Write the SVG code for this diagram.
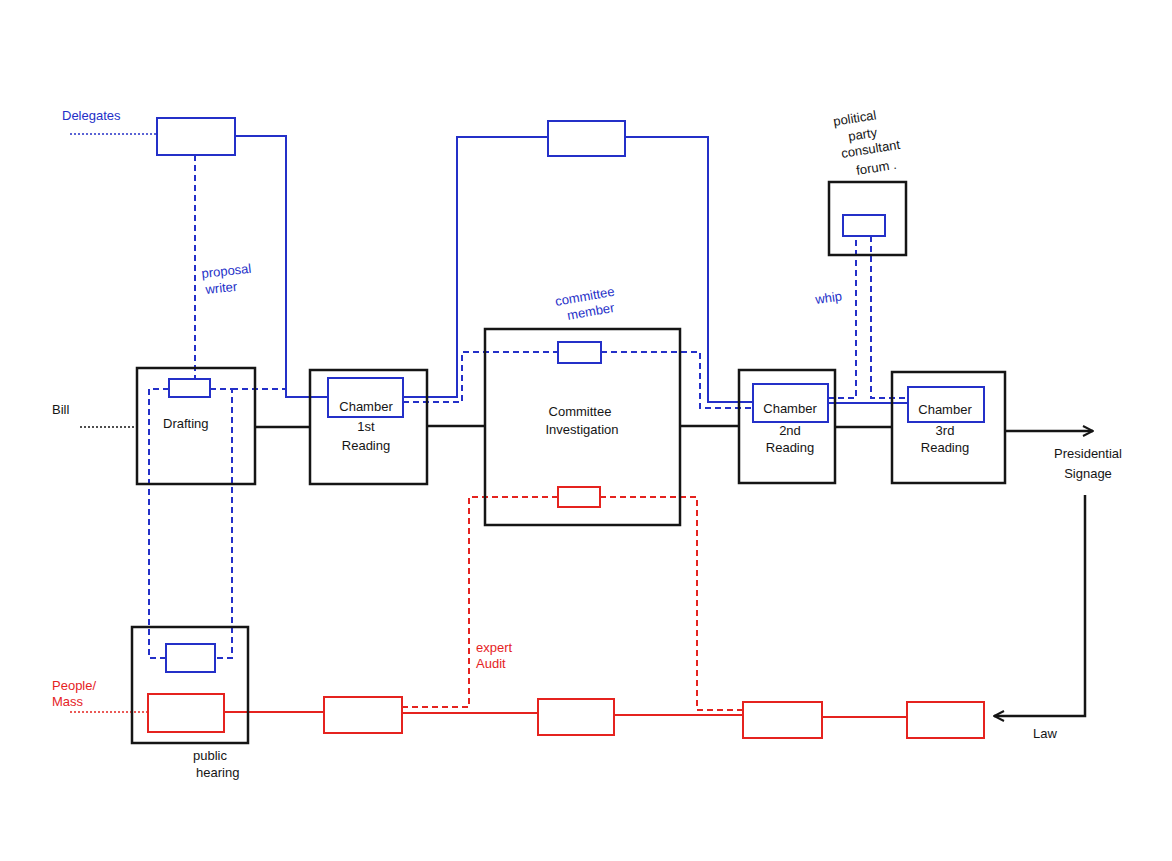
<svg xmlns="http://www.w3.org/2000/svg" width="1172" height="861" viewBox="0 0 1172 861">
<defs>
<style>
.k{stroke:#151515;stroke-width:2.5;fill:none}
.kd{stroke:#151515;stroke-width:1.6;fill:none;stroke-dasharray:2 2}
.b{stroke:#2430c8;stroke-width:2;fill:none}
.bd{stroke:#2430c8;stroke-width:2;fill:none;stroke-dasharray:6 4}
.bdot{stroke:#2430c8;stroke-width:1.6;fill:none;stroke-dasharray:2 2}
.r{stroke:#e5231f;stroke-width:2;fill:none}
.rd{stroke:#e5231f;stroke-width:2;fill:none;stroke-dasharray:6 4}
.rdot{stroke:#e5231f;stroke-width:1.6;fill:none;stroke-dasharray:2 2}
text{font-family:"Liberation Sans",Arial,sans-serif;font-size:13px}
.tk{fill:#151515}
.tb{fill:#2430c8}
.tr{fill:#e5231f}
.c{text-anchor:middle}
</style>
<marker id="arr" viewBox="0 0 12 12" refX="11" refY="6" markerWidth="12" markerHeight="12" markerUnits="userSpaceOnUse" orient="auto">
<path d="M1,1 L11,6 L1,11" fill="none" stroke="#151515" stroke-width="2"/>
</marker>
</defs>
<rect width="1172" height="861" fill="#ffffff"/>

<g id="connectors">
<path class="kd" d="M80 427 H137"/>
<path class="k" d="M255 427 H310"/>
<path class="k" d="M427 426 H485"/>
<path class="k" d="M680 426 H739"/>
<path class="k" d="M835 427 H892"/>
<path class="k" d="M1005 431 H1093" marker-end="url(#arr)"/>
<path class="k" d="M1085 495 V716 H994" marker-end="url(#arr)"/>

<path class="bdot" d="M70 134 H157"/>
<path class="b" d="M235 136 H286 V397 H328"/>
<path class="b" d="M403 397 H457 V137 H548"/>
<path class="b" d="M625 137 H708 V402 H753"/>
<path class="b" d="M828 403 H908"/>
<path class="bd" d="M195 155 V379"/>
<path class="bd" d="M169 389 H149 V658 H166"/>
<path class="bd" d="M210 389 H232 V658 H215"/>
<path class="bd" d="M232 389 H286"/>
<path class="bd" d="M403 402 H462 V352 H558"/>
<path class="bd" d="M601 352 H700 V408 H753"/>
<path class="bd" d="M828 398 H856 V236"/>
<path class="bd" d="M871 236 V398 H908"/>

<path class="rdot" d="M70 712 H148"/>
<path class="r" d="M224 712 H324"/>
<path class="r" d="M402 713 H538"/>
<path class="r" d="M614 715 H743"/>
<path class="r" d="M822 717 H907"/>
<path class="rd" d="M402 707 H469 V497 H558"/>
<path class="rd" d="M600 497 H697 V710 H743"/>
</g>

<g id="delegates">
<text class="tb" x="62" y="120">Delegates</text>
<rect class="b" x="157" y="118" width="78" height="37"/>
</g>
<g id="top-middle-box">
<rect class="b" x="548" y="121" width="77" height="35"/>
</g>
<g id="forum">
<text class="tk" transform="translate(834,126) rotate(-9)">political</text>
<text class="tk" transform="translate(849,141) rotate(-9)">party</text>
<text class="tk" transform="translate(842,158) rotate(-9)">consultant</text>
<text class="tk" transform="translate(857,175) rotate(-9)">forum .</text>
<rect class="k" x="829" y="182" width="77" height="73"/>
<rect class="b" x="843" y="215" width="42" height="21"/>
</g>
<g id="labels-blue">
<text class="tb" x="202" y="278" transform="rotate(-6 202 278)">proposal</text>
<text class="tb" x="206" y="294" transform="rotate(-6 206 294)">writer</text>
<text class="tb" x="556" y="306" transform="rotate(-10 556 306)">committee</text>
<text class="tb" x="568" y="320" transform="rotate(-10 568 320)">member</text>
<text class="tb" x="816" y="304" transform="rotate(-8 816 304)">whip</text>
</g>
<g id="drafting">
<text class="tk" x="52" y="414">Bill</text>
<rect class="k" x="137" y="368" width="118" height="116"/>
<rect class="b" x="169" y="379" width="41" height="18"/>
<text class="tk" x="163" y="428">Drafting</text>
</g>
<g id="reading1">
<rect class="k" x="310" y="370" width="117" height="114"/>
<rect class="b" x="328" y="378" width="75" height="39"/>
<text class="tk c" x="366" y="411">Chamber</text>
<text class="tk c" x="366" y="431">1st</text>
<text class="tk c" x="366" y="450">Reading</text>
</g>
<g id="committee">
<rect class="k" x="485" y="329" width="195" height="196"/>
<rect class="b" x="558" y="342" width="43" height="21"/>
<text class="tk c" x="580" y="416">Committee</text>
<text class="tk c" x="582" y="434">Investigation</text>
<rect class="r" x="558" y="487" width="42" height="20"/>
</g>
<g id="reading2">
<rect class="k" x="739" y="370" width="96" height="113"/>
<rect class="b" x="753" y="384" width="75" height="38"/>
<text class="tk c" x="790" y="413">Chamber</text>
<text class="tk c" x="790" y="435">2nd</text>
<text class="tk c" x="790" y="452">Reading</text>
</g>
<g id="reading3">
<rect class="k" x="892" y="372" width="113" height="111"/>
<rect class="b" x="908" y="387" width="76" height="35"/>
<text class="tk c" x="945" y="414">Chamber</text>
<text class="tk c" x="945" y="435">3rd</text>
<text class="tk c" x="945" y="452">Reading</text>
</g>
<g id="presidential">
<text class="tk c" x="1088" y="458">Presidential</text>
<text class="tk c" x="1088" y="478">Signage</text>
<text class="tk c" x="1045" y="738">Law</text>
</g>
<g id="expert">
<text class="tr" x="476" y="652">expert</text>
<text class="tr" x="476" y="668">Audit</text>
</g>
<g id="public-hearing">
<text class="tr" x="52" y="690">People/</text>
<text class="tr" x="52" y="706">Mass</text>
<rect class="k" x="132" y="627" width="116" height="116"/>
<rect class="b" x="166" y="644" width="49" height="28"/>
<rect class="r" x="148" y="694" width="76" height="38"/>
<text class="tk" x="193" y="760">public</text>
<text class="tk" x="196" y="777">hearing</text>
</g>
<g id="red-2"><rect class="r" x="324" y="697" width="78" height="36"/></g>
<g id="red-3"><rect class="r" x="538" y="699" width="76" height="36"/></g>
<g id="red-4"><rect class="r" x="743" y="702" width="79" height="36"/></g>
<g id="red-5"><rect class="r" x="907" y="702" width="77" height="36"/></g>
</svg>
